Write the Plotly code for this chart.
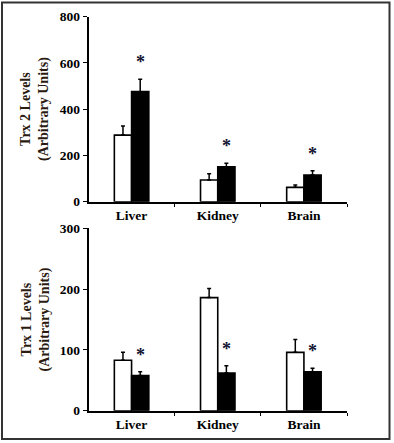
import plotly.graph_objects as go
from plotly.subplots import make_subplots

W, H = 394, 443

tissues = ["Liver", "Kidney", "Brain"]

# Trx 2 (top panel)
trx2_white = [288, 94, 62]
trx2_white_err = [39, 27, 10]
trx2_black = [476, 151, 115]
trx2_black_err = [53, 15, 19]

# Trx 1 (bottom panel)
trx1_white = [83, 186, 96]
trx1_white_err = [13, 15, 21]
trx1_black = [58, 62, 64]
trx1_black_err = [6, 12, 6]

# significance marks above the black bars
sig_top = ["*", "*", "*"]
sig_bottom = ["*", "*", "*"]

yticks_top = [0, 200, 400, 600, 800]
yticks_bottom = [0, 100, 200, 300]

FONT = "Liberation Serif"

fig = make_subplots(rows=2, cols=1)

xpos = list(range(len(tissues)))

def add_panel(row, white, werr, black, berr):
    fig.add_trace(go.Bar(
        x=xpos, y=white, offsetgroup="w", name="white",
        marker=dict(color="white", line=dict(color="black", width=1.6)),
        error_y=dict(type="data", array=werr, arrayminus=[0]*len(werr), symmetric=False,
                     color="black", thickness=1.5, width=2),
        showlegend=False), row=row, col=1)
    fig.add_trace(go.Bar(
        x=xpos, y=black, offsetgroup="b", name="black",
        marker=dict(color="black", line=dict(color="black", width=1.6)),
        error_y=dict(type="data", array=berr, arrayminus=[0]*len(berr), symmetric=False,
                     color="black", thickness=1.5, width=2),
        showlegend=False), row=row, col=1)

add_panel(1, trx2_white, trx2_white_err, trx2_black, trx2_black_err)
add_panel(2, trx1_white, trx1_white_err, trx1_black, trx1_black_err)

x0, x1 = 88.5 / W, 347 / W
fig.update_layout(
    width=W, height=H,
    margin=dict(l=0, r=0, t=0, b=0, autoexpand=False),
    paper_bgcolor="white", plot_bgcolor="white",
    barmode="group", bargap=0.6, bargroupgap=0,
    font=dict(family=FONT, size=13, color="black"),
    xaxis=dict(domain=[x0, x1], anchor="y"),
    xaxis2=dict(domain=[x0, x1], anchor="y2"),
    yaxis=dict(domain=[1 - 201.7 / H, 1 - 16.7 / H], anchor="x"),
    yaxis2=dict(domain=[1 - 410.7 / H, 1 - 228.3 / H], anchor="x2"),
)

for ax in ["xaxis", "xaxis2"]:
    fig.layout[ax].update(
        range=[-0.5, 2.5], tickmode="array", tickvals=xpos, ticktext=tissues,
        ticks="", showline=True, linecolor="black", linewidth=1.6,
        showgrid=False, zeroline=False, automargin=False,
        tickfont=dict(family=FONT, size=13.5, color="black", weight="bold"),
        minor=dict(tickmode="array", tickvals=[0.5, 1.5, 2.5], ticks="outside",
                   ticklen=3, tickwidth=1.4, tickcolor="black"),
    )

fig.layout.yaxis.update(range=[0, 800], tickvals=yticks_top)
fig.layout.yaxis2.update(range=[0, 300], tickvals=yticks_bottom)
for ax in ["yaxis", "yaxis2"]:
    fig.layout[ax].update(
        tickmode="array", ticks="outside", ticklen=4, tickwidth=1.4, tickcolor="black",
        showline=True, linecolor="black", linewidth=1.6, showgrid=False, zeroline=False,
        automargin=False,
        tickfont=dict(family=FONT, size=13.5, color="black", weight="bold"),
    )

# y-axis titles
def ytitle(text, ymid):
    fig.add_annotation(xref="paper", yref="paper", x=35 / W, y=ymid, text=text,
                       textangle=-90, showarrow=False, xanchor="center", yanchor="middle",
                       font=dict(family=FONT, size=14, color="#2a1a10", weight="bold"))

ytitle("Trx 2 Levels<br>(Arbitrary Units)", 1 - 109 / H)
ytitle("Trx 1 Levels<br>(Arbitrary Units)", 1 - 319.5 / H)

# significance stars above black bars
def stars(xref, yref, black, berr, sig):
    for i, (m, e, s) in enumerate(zip(black, berr, sig)):
        fig.add_annotation(xref=xref, yref=yref, x=i + 0.1, y=m + e, text=s,
                           showarrow=False, yanchor="middle", yshift=17,
                           font=dict(family=FONT, size=18, color="#101030", weight="bold"))

stars("x", "y", trx2_black, trx2_black_err, sig_top)
stars("x2", "y2", trx1_black, trx1_black_err, sig_bottom)

# outer frame
fig.add_shape(type="rect", xref="paper", yref="paper",
              x0=2 / W, x1=389.5 / W, y0=1 - 439 / H, y1=1 - 2.5 / H,
              line=dict(color="#333333", width=2), fillcolor="rgba(0,0,0,0)")

fig.write_html("out.html", config={"displayModeBar": False},
               post_script="document.body.style.margin='0';document.body.style.padding='0';document.body.style.overflow='hidden';")
